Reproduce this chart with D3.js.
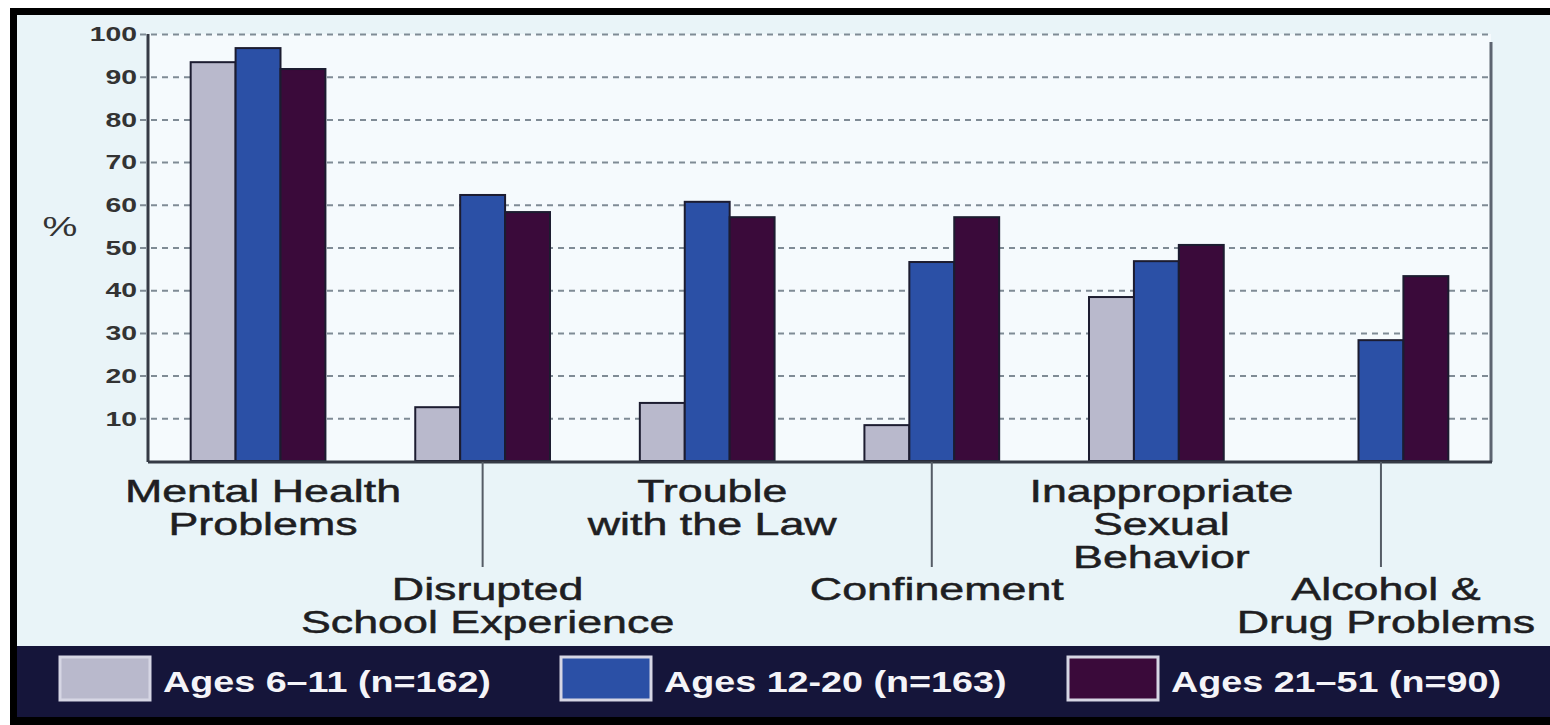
<!DOCTYPE html>
<html>
<head>
<meta charset="utf-8">
<script src="https://d3js.org/d3.v7.min.js"></script>
<style>
  body { margin: 0; background: #ffffff; }
  svg { display: block; font-family: "Liberation Sans", Arial, sans-serif; }
</style>
</head>
<body>
<div id="chart"></div>
<script>
// categories (two-line labels as drawn under the axis)
var categories = ["Mental Health Problems", "Disrupted School Experience", "Trouble with the Law",
                  "Confinement", "Inappropriate Sexual Behavior", "Alcohol & Drug Problems"];
var labelLines = [["Mental Health", "Problems"], ["Disrupted", "School Experience"], ["Trouble", "with the Law"],
                  ["Confinement"], ["Inappropriate", "Sexual", "Behavior"], ["Alcohol &", "Drug Problems"]];

// series values (%)
var seriesNames = ["Ages 6\u201311 (n=162)", "Ages 12-20 (n=163)", "Ages 21\u201351 (n=90)"];
var ages6to11  = [93.4, 12.6, 13.6,  8.4, 38.4,  0];
var ages12to20 = [96.7, 62.3, 60.7, 46.6, 46.8, 28.3];
var ages21to51 = [91.8, 58.3, 57.1, 57.1, 50.6, 43.3];

var yTicks = [10, 20, 30, 40, 50, 60, 70, 80, 90, 100];

// layout
var W = 1550, H = 725;
var plotLeft = 148, plotRight = 1491, plotTop = 34, plotBottom = 461;
var colors = ["#b9b9cc", "#2b50a6", "#3a0a3a"];
var sx = 1.4; // the picture is stretched horizontally

var svg = d3.select("#chart").append("svg")
    .attr("width", W).attr("height", H);

// frame + backgrounds
svg.append("rect").attr("x", 10).attr("y", 8).attr("width", W - 10).attr("height", H - 8).attr("fill", "#000");
svg.append("rect").attr("x", 17).attr("y", 15).attr("width", W - 17).attr("height", 631).attr("fill", "#e9f4f8");
svg.append("rect").attr("x", 17).attr("y", 646).attr("width", W - 17).attr("height", 71).attr("fill", "#15153a");
svg.append("rect").attr("x", plotLeft).attr("y", plotTop).attr("width", plotRight - plotLeft).attr("height", plotBottom - plotTop)
    .attr("fill", "#f5fafd");

var x = d3.scaleBand().domain(categories).range([plotLeft, plotRight]).paddingInner(0.4).paddingOuter(0.19);
var xs = d3.scaleBand().domain(d3.range(3)).range([0, x.bandwidth()]);
var y = d3.scaleLinear().domain([0, 100]).range([plotBottom, plotTop]);

// y axis with dashed gridlines
var yAxis = svg.append("g")
    .attr("transform", "translate(" + plotLeft + ",0)")
    .call(d3.axisLeft(y).tickValues(yTicks).tickSize(-(plotRight - plotLeft)).tickPadding(8));
yAxis.select(".domain").remove();
yAxis.selectAll(".tick line")
    .attr("x1", -8)
    .attr("stroke", "#7f8b95").attr("stroke-width", 2).attr("stroke-dasharray", "6,5");
yAxis.selectAll(".tick text")
    .attr("x", 0).attr("dx", null)
    .attr("transform", "translate(-11,0) scale(1.35,1)")
    .attr("fill", "#333").attr("font-size", 21).attr("font-weight", "bold");

svg.append("text")
    .attr("transform", "translate(60,236) scale(" + sx + ",1)")
    .attr("text-anchor", "middle").attr("font-size", 28).attr("fill", "#333").text("%");

// bars
var series = [ages6to11, ages12to20, ages21to51];
var groups = svg.append("g").selectAll("g").data(categories).join("g")
    .attr("transform", function(d) { return "translate(" + x(d) + ",0)"; });
groups.selectAll("rect")
    .data(function(d, i) { return series.map(function(s, k) { return {k: k, v: s[i]}; }).filter(function(e) { return e.v > 0; }); })
    .join("rect")
    .attr("x", function(d) { return xs(d.k); })
    .attr("y", function(d) { return y(d.v); })
    .attr("width", xs.bandwidth())
    .attr("height", function(d) { return y(0) - y(d.v); })
    .attr("fill", function(d) { return colors[d.k]; })
    .attr("stroke", "#1c1c30").attr("stroke-width", 2);

// axis lines
svg.append("line").attr("x1", plotLeft).attr("x2", plotLeft).attr("y1", plotTop).attr("y2", plotBottom + 1)
    .attr("stroke", "#353a45").attr("stroke-width", 3);
svg.append("line").attr("x1", plotRight).attr("x2", plotRight).attr("y1", plotTop + 8).attr("y2", plotBottom + 1)
    .attr("stroke", "#5d6470").attr("stroke-width", 3);
svg.append("line").attr("x1", plotLeft).attr("x2", plotRight + 1).attr("y1", plotBottom + 1).attr("y2", plotBottom + 1)
    .attr("stroke", "#353a45").attr("stroke-width", 3);

// category labels, alternating rows
categories.forEach(function(c, i) {
    var cx = x(c) + x.bandwidth() / 2 + 5;
    var low = i % 2 === 1;
    var base = low ? 600 : 502;
    if (low) {
        svg.append("line").attr("x1", cx - 5).attr("x2", cx - 5).attr("y1", plotBottom + 1).attr("y2", 567)
            .attr("stroke", "#555c66").attr("stroke-width", 2);
    }
    labelLines[i].forEach(function(t, j) {
        svg.append("text")
            .attr("transform", "translate(" + cx + "," + (base + j * 33) + ") scale(" + sx + ",1)")
            .attr("text-anchor", "middle").attr("font-size", 32).attr("fill", "#1e1e22")
            .attr("stroke", "#1e1e22").attr("stroke-width", 0.5)
            .text(t);
    });
});

// legend
var legendX = [60, 561, 1068];
seriesNames.forEach(function(n, k) {
    svg.append("rect").attr("x", legendX[k]).attr("y", 657).attr("width", 90).attr("height", 43)
        .attr("fill", colors[k]).attr("stroke", "#d6d6e4").attr("stroke-width", 3);
    svg.append("text")
        .attr("transform", "translate(" + (legendX[k] + 103) + ",692) scale(1.3,1)")
        .attr("font-size", 29).attr("font-weight", "bold").attr("fill", "#f4f4f8")
        .text(n);
});
</script>
</body>
</html>
